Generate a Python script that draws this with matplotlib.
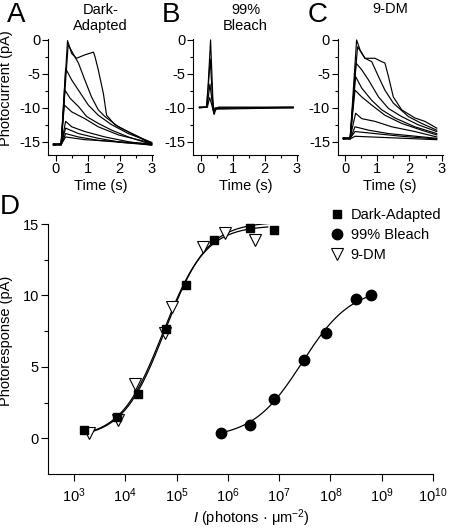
import matplotlib.pyplot as plt
import numpy as np
from matplotlib.ticker import MultipleLocator, FixedLocator, NullLocator

plt.rcParams['font.family'] = ['Liberation Sans', 'DejaVu Sans']
plt.rcParams['mathtext.fontset'] = 'custom'
plt.rcParams['mathtext.rm'] = 'Liberation Sans'
plt.rcParams['mathtext.it'] = 'Liberation Sans:italic'
plt.rcParams['axes.unicode_minus'] = False
plt.rcParams['font.size'] = 10.5

# ---- photocurrent traces (time s, current pA) ----
dark_traces = [
    ([-0.07, 0.17, 0.37, 0.50, 0.65, 0.91, 1.18, 1.23, 1.33, 1.49, 1.59, 1.85, 2.17, 2.48, 3.0],
     [-15.4, -15.3, -0.1, -2.0, -2.7, -2.2, -1.8, -2.5, -4.4, -7.9, -11.1, -12.5, -13.3, -14.0, -15.2]),
    ([-0.07, 0.17, 0.39, 0.60, 0.71, 0.91, 1.12, 1.33, 1.54, 1.96, 2.37, 3.0],
     [-15.5, -15.3, -0.7, -2.5, -3.4, -5.9, -8.4, -10.3, -11.3, -12.8, -13.8, -15.3]),
    ([-0.07, 0.17, 0.31, 0.50, 0.71, 1.02, 1.33, 1.75, 2.27, 3.0],
     [-15.3, -15.4, -4.2, -5.9, -7.4, -9.6, -11.1, -12.5, -13.8, -15.1]),
    ([-0.07, 0.17, 0.29, 0.45, 0.71, 0.97, 1.33, 1.75, 2.27, 3.0],
     [-15.5, -15.3, -7.4, -8.6, -9.8, -11.3, -12.3, -13.3, -14.3, -15.4]),
    ([-0.07, 0.17, 0.27, 0.50, 0.91, 1.33, 1.96, 3.0],
     [-15.4, -15.4, -9.6, -10.6, -11.6, -12.8, -14.0, -15.2]),
    ([-0.07, 0.17, 0.31, 0.50, 0.91, 1.54, 2.27, 3.0],
     [-15.3, -15.5, -12.0, -12.8, -13.5, -14.3, -15.0, -15.5]),
    ([-0.07, 0.17, 0.31, 0.71, 1.33, 2.06, 3.0],
     [-15.5, -15.4, -13.0, -13.8, -14.5, -15.1, -15.4]),
    ([-0.07, 0.17, 0.31, 0.71, 1.33, 3.0],
     [-15.4, -15.5, -13.8, -14.3, -14.8, -15.5]),
    ([-0.07, 0.17, 0.31, 0.91, 3.0],
     [-15.5, -15.4, -14.3, -14.7, -15.3]),
]

bleach_traces = [
    ([-0.05, 0.17, 0.22, 0.30, 0.37, 0.41, 0.46, 0.55, 2.89],
     [-10.0, -9.9, -7.0, 0.0, -8.5, -11.0, -10.3, -9.9, -9.9]),
    ([-0.05, 0.18, 0.29, 0.36, 0.40, 0.45, 2.89],
     [-9.9, -9.9, -2.8, -8.8, -10.8, -10.2, -10.0]),
    ([-0.05, 0.19, 0.28, 0.35, 0.39, 0.45, 2.89],
     [-10.0, -9.9, -6.5, -9.2, -10.6, -10.1, -9.9]),
    ([-0.05, 0.20, 0.27, 0.34, 0.38, 0.45, 2.89],
     [-9.9, -9.9, -8.5, -9.6, -10.4, -10.0, -10.0]),
]

dm_traces = [
    ([-0.05, 0.16, 0.36, 0.47, 0.62, 0.93, 1.14, 1.24, 1.35, 1.50, 1.76, 2.17, 2.48, 2.85],
     [-14.5, -14.5, 0.0, -1.5, -2.7, -2.7, -3.2, -3.4, -5.4, -8.4, -10.3, -11.5, -12.0, -13.0]),
    ([-0.05, 0.16, 0.39, 0.62, 0.83, 1.04, 1.24, 1.50, 1.97, 2.38, 2.85],
     [-14.6, -14.5, -1.0, -2.7, -3.2, -5.4, -7.4, -9.3, -11.3, -12.3, -13.3]),
    ([-0.05, 0.16, 0.34, 0.52, 0.73, 1.04, 1.35, 1.76, 2.27, 2.85],
     [-14.4, -14.5, -3.4, -4.4, -5.9, -8.4, -10.1, -11.3, -12.5, -13.5]),
    ([-0.05, 0.16, 0.33, 0.52, 0.83, 1.14, 1.55, 2.17, 2.85],
     [-14.5, -14.6, -5.4, -7.1, -8.9, -10.3, -11.5, -12.8, -13.8]),
    ([-0.05, 0.16, 0.31, 0.52, 0.83, 1.24, 1.76, 2.38, 2.85],
     [-14.6, -14.5, -7.4, -8.4, -9.6, -11.1, -12.3, -13.3, -14.0]),
    ([-0.05, 0.16, 0.33, 0.52, 0.93, 1.45, 2.17, 2.85],
     [-14.5, -14.4, -10.8, -11.6, -12.0, -12.8, -13.5, -14.3]),
    ([-0.05, 0.16, 0.31, 0.73, 1.35, 2.85],
     [-14.4, -14.6, -12.8, -13.3, -13.8, -14.5]),
    ([-0.05, 0.16, 0.31, 0.93, 1.76, 2.85],
     [-14.6, -14.5, -13.5, -13.8, -14.2, -14.6]),
    ([-0.05, 0.16, 0.31, 2.85],
     [-14.5, -14.6, -14.2, -14.7]),
]

# ---- intensity-response data (photons/um^2, pA) ----
da_flash = [1.6e3, 6.8e3, 1.8e4, 6.3e4, 1.5e5, 5.4e5, 2.75e6, 8.1e6]
da_resp = [0.6, 1.5, 3.1, 7.65, 10.7, 13.9, 14.75, 14.6]
dm_flash = [2.0e3, 7.2e3, 1.55e4, 5.9e4, 8.3e4, 3.3e5, 8.7e5, 3.4e6]
dm_resp = [0.4, 1.3, 3.8, 7.4, 9.2, 13.4, 14.35, 13.85]
bl_flash = [7.4e5, 2.75e6, 8.1e6, 3.1e7, 8.3e7, 3.1e8, 6.2e8]
bl_resp = [0.38, 0.96, 2.75, 5.5, 7.37, 9.75, 10.03]

# Hill fit parameters (Rmax, I50, n) and drawn range of each fit
da_fit = (15.15, 6.0e4, 1.05, 1.6e3, 1.0e7)
dm_fit = (14.9, 5.5e4, 1.05, 2.0e3, 6.0e6)
bl_fit = (10.6, 2.8e7, 0.9, 7.4e5, 6.2e8)

W, H = 452, 529
fig = plt.figure(figsize=(W / 100, H / 100), dpi=100)


def px_axes(left, top, right, bottom):
    return fig.add_axes([left / W, 1 - bottom / H, (right - left) / W, (bottom - top) / H])


def style(ax, major=4, minor=2.5):
    for s in ['top', 'right']:
        ax.spines[s].set_visible(False)
    for s in ['left', 'bottom']:
        ax.spines[s].set_linewidth(0.8)
    ax.tick_params(which='major', length=major, width=0.8, pad=1.5, labelsize=10.5)
    ax.tick_params(which='minor', length=minor, width=0.8)


panels = [
    ('A', dark_traces, 48, 55.7, 32.0, ['Dark-', 'Adapted'], 7),
    ('B', bleach_traces, 193.3, 201.0, 31.9, ['99%', 'Bleach'], 162),
    ('C', dm_traces, 337.7, 345.0, 32.2, ['9-DM'], 308),
]

for letter, traces, left, zero, scale, title, lx in panels:
    x0 = (left - zero) / scale
    x1 = 3.03
    ax = px_axes(left, 38.6, zero + x1 * scale, 154.6)
    for t, cur in traces:
        ax.plot(t, cur, color='black', lw=0.85)
    ax.set_xlim(x0, x1)
    ax.set_ylim(-16.9, 0.2)
    ax.xaxis.set_major_locator(FixedLocator([0, 1, 2, 3]))
    ax.xaxis.set_minor_locator(FixedLocator([0.5, 1.5, 2.5]))
    ax.yaxis.set_major_locator(FixedLocator([-15, -10, -5, 0]))
    ax.yaxis.set_minor_locator(FixedLocator([-12.5, -7.5, -2.5]))
    style(ax)
    cx = (left + zero + x1 * scale) / 2
    fig.text(cx / W, 1 - 186 / H, 'Time (s)', ha='center', va='center', fontsize=10.5)
    fig.text(lx / W, 1 - 15 / H, letter, ha='left', va='center', fontsize=20)
    if len(title) == 2:
        fig.text(cx / W, 1 - 10 / H, title[0], ha='center', va='center', fontsize=10.5)
        fig.text(cx / W, 1 - 26 / H, title[1], ha='center', va='center', fontsize=10.5)
    else:
        fig.text(cx / W, 1 - 9 / H, title[0], ha='center', va='center', fontsize=10.5)

fig.text(6 / W, 1 - 88 / H, 'Photocurrent (pA)', rotation=90, ha='center', va='center', fontsize=10.5)

# ---- panel D ----
axd = px_axes(48, 224, 433, 474)
for (rmax, i50, n, lo, hi) in [da_fit, dm_fit, bl_fit]:
    xs = np.logspace(np.log10(lo), np.log10(hi), 200)
    axd.plot(xs, rmax * xs ** n / (xs ** n + i50 ** n), color='black', lw=0.9, zorder=2)

axd.plot(da_flash, da_resp, 's', color='black', ms=6, label='Dark-Adapted', zorder=4, clip_on=False)
axd.plot(bl_flash, bl_resp, 'o', color='black', ms=7.5, label='99% Bleach', zorder=4, clip_on=False)
axd.plot(dm_flash, dm_resp, 'v', mfc='white', mec='black', mew=0.8, ms=8, label='9-DM', zorder=3, clip_on=False)

axd.set_xscale('log')
axd.set_xlim(10 ** 2.493, 1e10)
axd.set_ylim(-2.5, 15)
axd.xaxis.set_major_locator(FixedLocator([10.0 ** k for k in range(3, 11)]))
axd.xaxis.set_minor_locator(NullLocator())
axd.yaxis.set_major_locator(FixedLocator([0, 5, 10, 15]))
axd.yaxis.set_minor_locator(FixedLocator([2.5, 7.5, 12.5]))
style(axd, major=5, minor=3)
axd.tick_params(axis='x', pad=4)

axd.legend(loc='upper left', bbox_to_anchor=(331 / W, 1 - 208 / H), bbox_transform=fig.transFigure,
           frameon=False, fontsize=10.5, handlelength=0.8, handletextpad=0.55,
           labelspacing=0.4, borderpad=0, borderaxespad=0, numpoints=1)

fig.text(0 / W, 1 - 207 / H, 'D', ha='left', va='center', fontsize=20)
fig.text(6 / W, 1 - 341 / H, 'Photoresponse (pA)', rotation=90, ha='center', va='center', fontsize=10.5)
fig.text(251 / W, 1 - 518 / H, r'$\mathit{I}$ (photons · μm$^{-2}$)', ha='center', va='center', fontsize=10.5)

fig.savefig('out.png', dpi=100)
